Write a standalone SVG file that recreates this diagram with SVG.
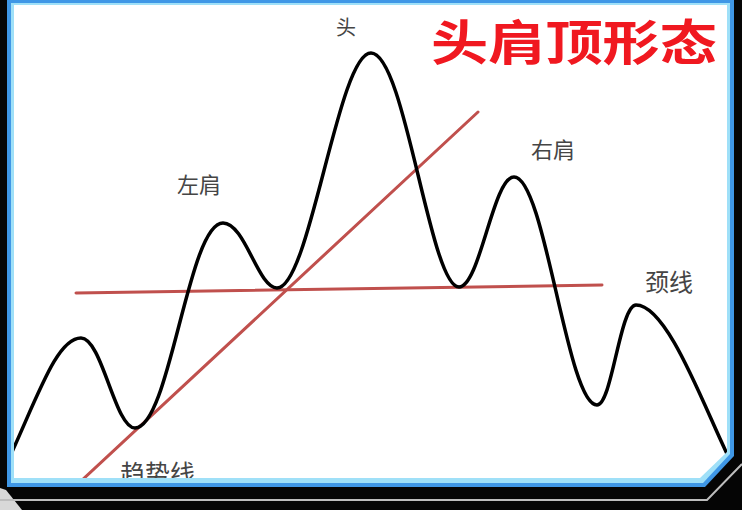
<svg xmlns="http://www.w3.org/2000/svg" width="742" height="510" viewBox="0 0 742 510">
  <defs>
    <clipPath id="paper">
      <polygon points="14,5 727,5 727,452 700,478 14,478"/>
    </clipPath>
    <style>
      .lbl { font-family: "Noto Sans CJK SC", "Noto Sans", sans-serif; fill: #454545; }
      .red { stroke: #c0504d; stroke-width: 3; fill: none; stroke-linecap: round; }
    </style>
  </defs>
  <g id="background">
    <rect x="0" y="0" width="742" height="510" fill="#050505"/>
    <polygon points="0,488 6,490 22,510 0,510" fill="#d8d8d8"/>
    <polyline points="0,500 707,500 742,464" fill="none" stroke="#bdbdbd" stroke-width="2"/>
    <polygon points="7,0 734,0 734,456 705,487 7,487" fill="#3f97e6"/>
    <polygon points="11,3 730,3 730,454 703,483 11,483" fill="#9fe0f8"/>
    <polygon points="14,5 727,5 727,452 700,478 14,478" fill="#ffffff"/>
  </g>
  <g id="chart" clip-path="url(#paper)">
    <g id="connectors">
      <line id="trendline" class="red" x1="80" y1="482" x2="478" y2="112"/>
      <line id="neckline" class="red" x1="76" y1="293" x2="602" y2="285"/>
    </g>
    <path id="price" fill="none" stroke="#000" stroke-width="3.5" stroke-linejoin="round"
      d="M 12,452 C 40,390 58,338 81,338 C 102,338 115,428 135,428 C 170,428 188,223 223,223 C 245,223 258,288 277,288 C 310,288 338,53 371,53 C 405,53 430,287 459,287 C 480,287 493,177 514,177 C 545,177 567,405 597,405 C 612,405 620,305 636,305 C 668,305 705,410 730,460"/>
    <g id="label-trend"><text class="lbl" x="120" y="483" font-size="25">趋势线</text></g>
  </g>
  <g id="label-head"><text class="lbl" x="346" y="35" font-size="20" text-anchor="middle">头</text></g>
  <g id="label-left"><text class="lbl" x="177" y="193" font-size="22">左肩</text></g>
  <g id="label-right"><text class="lbl" x="531" y="158" font-size="22">右肩</text></g>
  <g id="label-neck"><text class="lbl" x="645" y="291" font-size="24">颈线</text></g>
  <g id="title"><text x="431" y="60" font-family="'Noto Sans CJK SC', 'Noto Sans', sans-serif" font-weight="700" font-size="48" fill="#f01820" textLength="286" lengthAdjust="spacingAndGlyphs">头肩顶形态</text></g>
</svg>
